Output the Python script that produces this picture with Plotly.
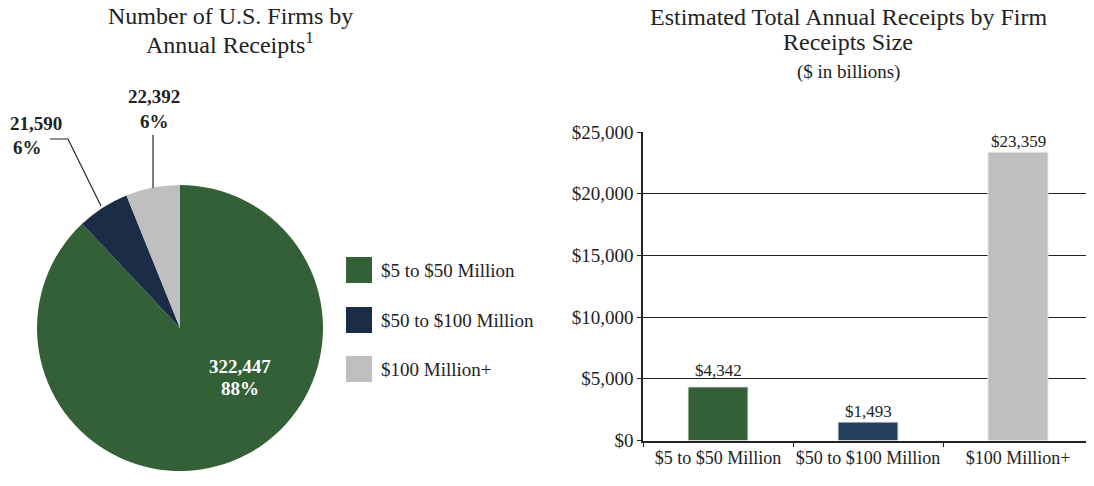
import plotly.graph_objects as go

# ---- data ----
categories = ["$5 to $50 Million", "$50 to $100 Million", "$100 Million+"]
firm_counts = [322447, 21590, 22392]
receipts_billions = [4342, 1493, 23359]
pie_colors = ["#336036", "#1b2c47", "#bfbfbf"]
bar_colors = ["#336036", "#243f5f", "#bfbfbf"]
y_ticks = [0, 5000, 10000, 15000, 20000, 25000]

# page body has an 8px margin; size the figure so it fills the window exactly
OFF = 8
W, H = 1094 - OFF, 486 - OFF
FONT = "Liberation Serif"


def px(x):
    return (x - OFF) / W


def py(y):
    return 1 - (y - OFF) / H


fig = go.Figure()

# ---- pie ----
cx, cy, r = 180, 328, 143
fig.add_trace(go.Pie(
    labels=categories, values=firm_counts, sort=False, direction="clockwise",
    rotation=0, marker=dict(colors=pie_colors, line=dict(width=0)),
    textinfo="none", hoverinfo="label+value+percent", showlegend=False,
    domain=dict(x=[px(cx - r), px(cx + r)], y=[py(cy + r), py(cy - r)]),
))

# ---- bars ----
fig.add_trace(go.Bar(
    x=categories, y=receipts_billions,
    marker=dict(color=bar_colors, line=dict(color="#e6e6e6", width=1)),
    width=0.4, showlegend=False, xaxis="x", yaxis="y",
))

fig.update_layout(
    width=W, height=H, margin=dict(l=0, r=0, t=0, b=0, autoexpand=False),
    paper_bgcolor="white", plot_bgcolor="white",
    font=dict(family=FONT, color="#222"),
    xaxis=dict(domain=[px(643), px(1093)], showline=True, linecolor="#222", linewidth=1.5,
               ticks="outside", tickson="boundaries", ticklen=5, tickcolor="#222",
               tickangle=0, automargin=False,
               tickfont=dict(size=18, family=FONT, color="#222"), showgrid=False),
    yaxis=dict(domain=[py(440.5), py(132)], range=[0, 25000], tickvals=y_ticks,
               ticktext=[f"${v:,}" for v in y_ticks], showline=True, linecolor="#222",
               linewidth=1.5, showgrid=True, gridcolor="#222", gridwidth=1,
               ticks="outside", ticklen=4, tickcolor="#222", automargin=False,
               tickfont=dict(size=19, family=FONT, color="#222"), zeroline=False),
)

ann = []


def add_text(x, y, text, size, color="#222", xanchor="center"):
    ann.append(dict(x=px(x), y=py(y), xref="paper", yref="paper", text=text,
                    font=dict(size=size, family=FONT, color=color), showarrow=False,
                    xanchor=xanchor, yanchor="middle"))


# titles
add_text(230, 16, "Number of U.S. Firms by", 24)
add_text(230, 43, "Annual Receipts<sup>1</sup>", 24)
add_text(848, 17, "Estimated Total Annual Receipts by Firm", 24)
add_text(848, 42, "Receipts Size", 24)
add_text(848, 72, "($ in billions)", 19)

# bar value labels (lifted above a gridline when they would sit on it)
for cat, v in zip(categories, receipts_billions):
    near_grid = any(0 < t - v < 1000 for t in y_ticks)
    ann.append(dict(x=cat, y=v, xref="x", yref="y", text=f"${v:,}", showarrow=False,
                    yanchor="bottom", yshift=5 if near_grid else -1,
                    font=dict(size=17, family=FONT, color="#222")))

total = sum(firm_counts)
pct = [round(100 * v / total) for v in firm_counts]
# pie labels
add_text(240, 366, f"<b>{firm_counts[0]:,}</b>", 19, color="white")
add_text(240, 388, f"<b>{pct[0]}%</b>", 19, color="white")
add_text(8, 123, f"<b>{firm_counts[1]:,}</b>", 19, xanchor="left")
add_text(27, 147, f"<b>{pct[1]}%</b>", 19)
add_text(154, 96, f"<b>{firm_counts[2]:,}</b>", 19)
add_text(154, 121, f"<b>{pct[2]}%</b>", 19)

shapes = []
# leader lines
shapes.append(dict(type="path", xref="paper", yref="paper",
                   path=f"M {px(50)} {py(139)} L {px(68)} {py(139)} L {px(101)} {py(206)}",
                   line=dict(color="#222", width=1.2)))
shapes.append(dict(type="line", xref="paper", yref="paper", x0=px(153), x1=px(153),
                   y0=py(135), y1=py(188), line=dict(color="#222", width=1.2)))

# legend
leg_y = [270, 320, 369]
for c, lab, yy in zip(pie_colors, categories, leg_y):
    shapes.append(dict(type="rect", xref="paper", yref="paper", x0=px(346), x1=px(372),
                       y0=py(yy + 13), y1=py(yy - 13), fillcolor=c, line=dict(width=0)))
    add_text(379, yy, lab, 19, xanchor="left")

fig.update_layout(annotations=ann, shapes=shapes)
fig.write_html("out.html")
